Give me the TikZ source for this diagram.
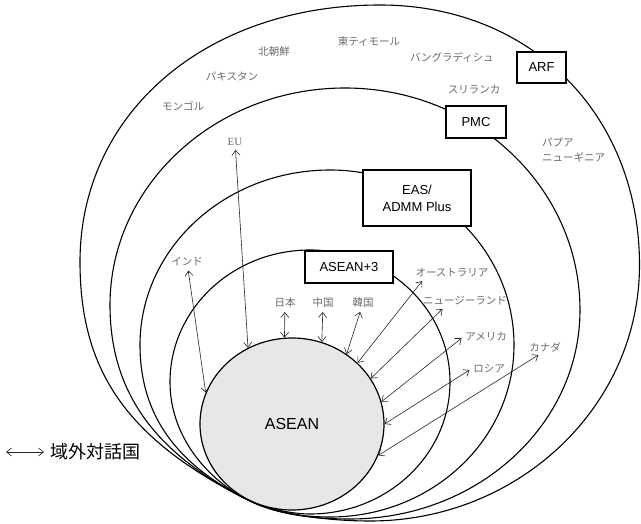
\documentclass[tikz,border=0pt]{standalone}
\usepackage{fontspec}
\setmainfont{Liberation Serif}
\setsansfont{Liberation Sans}
\newfontfamily\jpfont{Noto Sans CJK JP}
\usetikzlibrary{arrows.meta, calc, shapes.geometric}

\definecolor{aseanfill}{RGB}{230,231,232}
\definecolor{labelgray}{RGB}{105,105,105}

% closed egg-shaped ring through (#1L),(#1T),(#1R),(#1B) and the common touch point
\newcommand{\ringpath}[8]{%
  \draw[ring] (#1L)
    .. controls ($(#1L)!#2!(#1L|-#1T)$) and ($(#1T)!#2!(#1L|-#1T)$) .. (#1T)
    .. controls ($(#1T)!#3!(#1R|-#1T)$) and ($(#1R)!#3!(#1R|-#1T)$) .. (#1R)
    .. controls ($(#1R)!#4!(#1R|-#1B)$) and ($(#1B)!#4!(#1R|-#1B)$) .. (#1B)
    .. controls ($(#1B)+(-#5,0)$) and ($(touch)+(#6,#6/2)$) .. (touch)
    .. controls ($(touch)-(#7,#7/2)$) and ($(#1L)+(0,#8)$) .. (#1L) -- cycle;}

\begin{document}
\begin{tikzpicture}[
    x=1pt, y=1pt, yscale=-1,
    >={Straight Barb[length=5pt,width=8pt]},
    ring/.style={line width=1.1pt, black},
    box/.style={draw, line width=1.1pt, fill=white, inner sep=0pt, align=center,
                font=\sffamily\fontsize{13}{17}\selectfont},
    country/.style={text=labelgray, inner sep=2pt,
                    font=\jpfont\fontsize{10.5}{15}\selectfont},
    link/.style={<->, line width=0.6pt, black!85, shorten <=2pt},
]
\useasboundingbox (0,0) rectangle (641,524);

%--- Common touch point of all rings (bottom left) ---
\coordinate (touch) at (248,500);

%--- ARF (outer ring) ---
\coordinate (arfL) at (80,262);
\coordinate (arfT) at (380,5);
\coordinate (arfR) at (639.5,265);
\coordinate (arfB) at (370,521);
\ringpath{arf}{0.58}{0.58}{0.552}{40}{30}{120}{110}

%--- PMC ---
\coordinate (pmcL) at (110,305);
\coordinate (pmcT) at (345,88);
\coordinate (pmcR) at (580,310);
\coordinate (pmcB) at (350,519);
\ringpath{pmc}{0.552}{0.552}{0.552}{35}{30}{90}{90}

%--- EAS / ADMM Plus ---
\coordinate (easL) at (140,345);
\coordinate (easT) at (330,170);
\coordinate (easR) at (514,345);
\coordinate (easB) at (330,517);
\ringpath{eas}{0.552}{0.552}{0.552}{30}{25}{60}{80}

%--- ASEAN+3 ---
\coordinate (aptL) at (170,382);
\coordinate (aptT) at (310,250);
\coordinate (aptR) at (450,382);
\coordinate (aptB) at (310,514);
\ringpath{apt}{0.552}{0.552}{0.552}{20}{15}{40}{55}

%--- ASEAN core ---
\node[ellipse, draw, line width=1.2pt, fill=aseanfill, inner sep=0pt,
      minimum width=184pt, minimum height=172pt,
      font=\sffamily\fontsize{16}{18}\selectfont] (asean) at (292,424) {ASEAN};

%--- Frame labels ---
\node[box, minimum width=49pt, minimum height=31pt] (arf) at (541.5,67.5) {ARF};
\node[box, minimum width=60pt, minimum height=32pt] (pmc) at (476,122) {PMC};
\node[box, minimum width=108pt, minimum height=56pt] (eas) at (417,198) {EAS/\\ADMM Plus};
\node[box, minimum width=88pt, minimum height=32pt] (apt) at (349,267) {ASEAN+3};

%--- ARF only members ---
\node[country] (tls) at (369,42) {東ティモール};
\node[country] (prk) at (274,52) {北朝鮮};
\node[country] (pak) at (232,76) {パキスタン};
\node[country] (mng) at (183,106) {モンゴル};
\node[country] (bgd) at (452,57) {バングラディシュ};
\node[country] (lka) at (474,90) {スリランカ};
\node[country, anchor=west, align=left] (png) at (540,149.5) {パプア\\ニューギニア};

%--- Dialogue partners ---
\node[country, font=\rmfamily\fontsize{11}{12}\selectfont] (eu) at (235,142) {EU};
\node[country] (ind) at (187,262) {インド};
\node[country] (jpn) at (285,303) {日本};
\node[country] (chn) at (323,303) {中国};
\node[country] (kor) at (363,303) {韓国};
\node[country] (aus) at (452,273) {オーストラリア};
\node[country] (nzl) at (465,301) {ニュージーランド};
\node[country] (usa) at (486,337) {アメリカ};
\node[country] (rus) at (489,369) {ロシア};
\node[country] (can) at (545,347) {カナダ};

%--- Links to ASEAN ---
\draw[link] (eu) -- (asean.120);
\draw[link] (ind) -- (asean.160);
\draw[link] (jpn) -- (asean.95);
\draw[link] (chn) -- (asean.70);
\draw[link] (kor) -- (asean.52);
\draw[link] ([xshift=10pt]aus.south west) -- (asean.43);
\draw[link] ([xshift=23pt]nzl.south west) -- (asean.30);
\draw[link] (usa.west) -- (asean.14);
\draw[link] (rus.west) -- (asean.0);
\draw[link] ([xshift=-5pt]can.south) -- (asean.-20);

%--- Legend ---
\coordinate (lgL) at (6,452);
\node[anchor=west, inner sep=1pt, font=\jpfont\fontsize{18}{20}\selectfont] (legend) at (49,452) {域外対話国};
\draw[link, shorten <=0pt, shorten >=5pt] (lgL) -- (legend.west);

\end{tikzpicture}
\end{document}
